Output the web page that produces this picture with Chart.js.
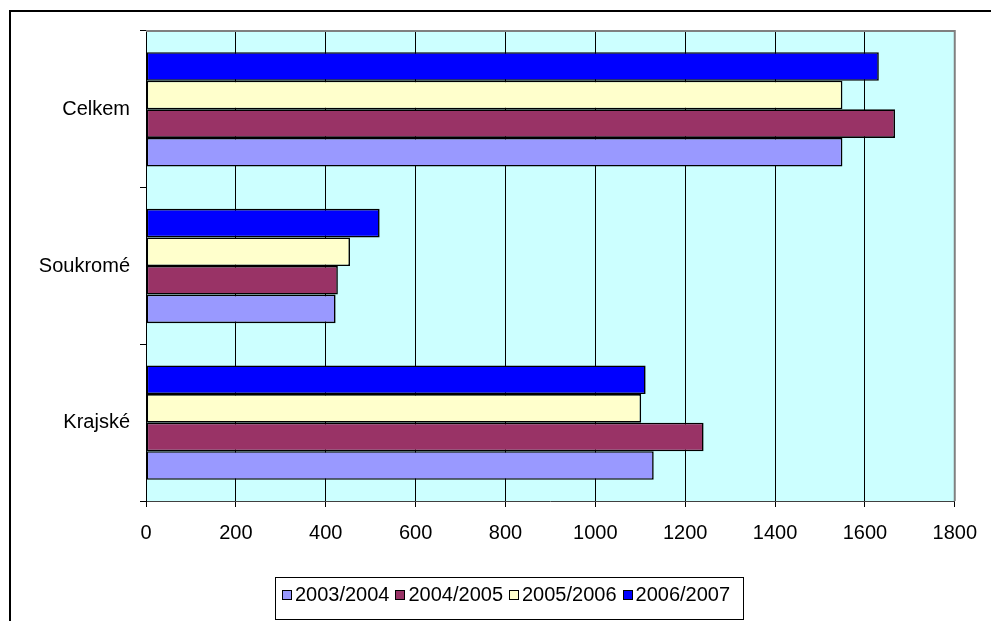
<!DOCTYPE html>
<html><head><meta charset="utf-8">
<script src="https://cdn.jsdelivr.net/npm/chart.js@4/dist/chart.umd.min.js"></script>
<style>html,body{margin:0;padding:0;background:#fff}#wrap{width:991px;height:621px;position:relative}</style>
</head><body><div id="wrap"><canvas id="c" width="991" height="621"></canvas></div>
<script>
const categories = ['Celkem', 'Soukromé', 'Krajské'];
const seriesNames = ['2003/2004', '2004/2005', '2005/2006', '2006/2007'];
const s2003 = [1550, 422, 1130];
const s2004 = [1667, 427, 1241];
const s2005 = [1550, 454, 1102];
const s2006 = [1631, 520, 1112];
const xMin = 0, xMax = 1800, xStep = 200;
const seriesColors = ['#9999FF', '#993366', '#FFFFCC', '#0000FF'];
const seriesValues = [s2003, s2004, s2005, s2006];

const FONT = '"Liberation Sans", Arial, sans-serif';

// datasets listed newest first so that, like the reference, 2006/2007 sits at the top of each group
const datasets = [3, 2, 1, 0].map(i => ({
  label: seriesNames[i],
  data: seriesValues[i],
  backgroundColor: seriesColors[i],
  borderColor: '#000',
  borderWidth: 1.6,
  borderSkipped: false,
  barPercentage: 1,
  categoryPercentage: 0.73
}));

const deco = {
  id: 'deco',
  beforeDraw(chart) {
    const {ctx, chartArea: a} = chart;
    ctx.save();
    ctx.fillStyle = '#fff'; ctx.fillRect(0, 0, chart.width, chart.height);
    ctx.fillStyle = '#000';
    ctx.fillRect(9, 10, chart.width - 9, 2);
    ctx.fillRect(9, 10, 2, chart.height - 10);
    ctx.fillStyle = '#CCFFFF';
    ctx.fillRect(a.left, a.top, a.right - a.left, a.bottom - a.top);
    ctx.restore();
  },
  beforeDatasetsDraw(chart) {
    const {ctx, chartArea: a} = chart;
    ctx.save();
    ctx.strokeStyle = '#808080'; ctx.lineWidth = 2;
    ctx.beginPath();
    ctx.moveTo(a.left, a.top); ctx.lineTo(a.right, a.top); ctx.lineTo(a.right, a.bottom);
    ctx.stroke();
    ctx.restore();
  },
  afterDraw(chart) {
    const ctx = chart.ctx;
    ctx.save();
    const bx = 275.5, by = 577.5, bw = 468, bh = 42;
    ctx.strokeStyle = '#000'; ctx.lineWidth = 1;
    ctx.strokeRect(bx, by, bw, bh);
    ctx.font = '20px ' + FONT;
    ctx.textBaseline = 'middle';
    const sq = 10, gapAfter = 3, gapItem = 6;
    const widths = seriesNames.map(n => ctx.measureText(n).width);
    const total = widths.reduce((s, w) => s + w + sq + gapAfter, 0) + gapItem * (seriesNames.length - 1);
    let x = 506 - total / 2;
    const cy = 595;
    seriesNames.forEach((n, i) => {
      const rx = Math.round(x);
      ctx.fillStyle = seriesColors[i];
      ctx.fillRect(rx, cy - 5, sq, sq);
      ctx.strokeStyle = '#000';
      ctx.strokeRect(rx + 0.5, cy - 4.5, sq - 1, sq - 1);
      x += sq + gapAfter;
      ctx.fillStyle = '#000';
      ctx.fillText(n, x, cy);
      x += widths[i] + gapItem;
    });
    ctx.restore();
  }
};

new Chart(document.getElementById('c'), {
  type: 'bar',
  data: { labels: categories, datasets },
  options: {
    indexAxis: 'y',
    responsive: false,
    animation: false,
    devicePixelRatio: 1,
    layout: { padding: { top: 31, right: 35, bottom: 80, left: 0 } },
    plugins: { legend: { display: false }, tooltip: { enabled: false } },
    scales: {
      x: {
        min: xMin, max: xMax,
        ticks: { stepSize: xStep, color: '#000', font: { family: FONT, size: 20 }, padding: 14, maxRotation: 0,
                 callback: v => String(v) },
        grid: { color: '#000', lineWidth: 1, tickLength: 6, drawOnChartArea: true },
        border: { color: '#404040', width: 1 },
        afterFit(s) { s.height = 40; }
      },
      y: {
        ticks: { color: '#000', font: { family: FONT, size: 20 }, padding: 10 },
        grid: { color: '#000', drawOnChartArea: false, tickLength: 6, offset: true },
        border: { color: '#000', width: 1 },
        afterFit(s) { s.width = 146; }
      }
    }
  },
  plugins: [deco]
});
</script>
</body></html>
